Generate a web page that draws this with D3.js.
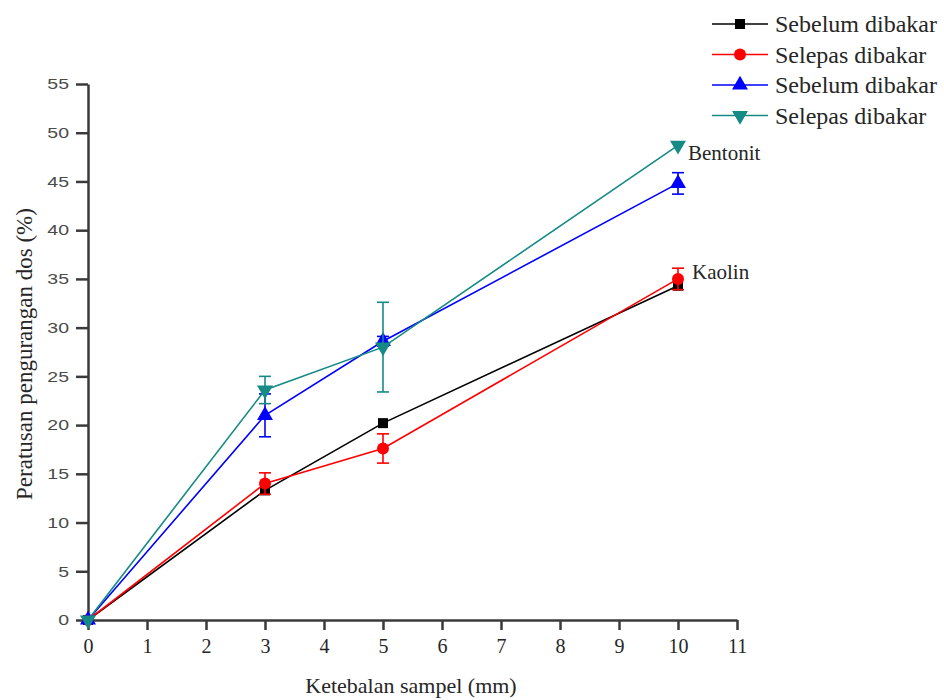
<!DOCTYPE html>
<html>
<head>
<meta charset="utf-8">
<script src="https://cdn.jsdelivr.net/npm/d3@7"></script>
<style>
  body { margin: 0; background: #fff; }
  svg text.serif { font-family: "Liberation Serif", "DejaVu Serif", serif; fill: #262626; }
  svg text.sans { font-family: "Liberation Sans", Arial, sans-serif; fill: #4a4a4a; }
</style>
</head>
<body>
<div id="chart"></div>
<script>
// data
const xValues = [0, 3, 5, 10];
const seriesNames = ['Sebelum dibakar', 'Selepas dibakar', 'Sebelum dibakar', 'Selepas dibakar'];
const kaolinBefore = [0, 13.3, 20.2, 34.3];
const kaolinBeforeErr = [0, 0, 0, 0];
const kaolinAfter = [0, 14.0, 17.6, 35.0];
const kaolinAfterErr = [0, 1.1, 1.5, 1.1];
const bentonitBefore = [0, 21.0, 28.6, 44.8];
const bentonitBeforeErr = [0, 2.2, 0.5, 1.1];
const bentonitAfter = [0, 23.6, 28.0, 48.7];
const bentonitAfterErr = [0, 1.4, 4.6, 0];
const xTicks = [0, 1, 2, 3, 4, 5, 6, 7, 8, 9, 10, 11];
const yTicks = [0, 5, 10, 15, 20, 25, 30, 35, 40, 45, 50, 55];

const series = [
  { name: seriesNames[0], y: kaolinBefore, err: kaolinBeforeErr, color: '#000000', shape: 'square' },
  { name: seriesNames[1], y: kaolinAfter, err: kaolinAfterErr, color: '#ff0000', shape: 'circle' },
  { name: seriesNames[2], y: bentonitBefore, err: bentonitBeforeErr, color: '#0000ff', shape: 'up' },
  { name: seriesNames[3], y: bentonitAfter, err: bentonitAfterErr, color: '#168a84', shape: 'down' }
];

const W = 944, H = 700;
const svg = d3.select('#chart').append('svg').attr('width', W).attr('height', H);

const x = d3.scaleLinear().domain([0, 11]).range([88, 737]);
const y = d3.scaleLinear().domain([0, 55]).range([620, 84]);

// axes
const xAxis = svg.append('g')
  .attr('transform', 'translate(0,620)')
  .call(d3.axisBottom(x).tickValues(xTicks).tickSize(10).tickSizeOuter(0).tickPadding(9));
xAxis.selectAll('text').attr('class', 'serif').attr('font-size', 20);
const yAxis = svg.append('g')
  .attr('transform', 'translate(88,0)')
  .call(d3.axisLeft(y).tickValues(yTicks).tickSize(12).tickSizeOuter(0).tickPadding(7));
yAxis.selectAll('text').attr('class', 'sans').attr('font-size', 15)
  .each(function () {
    // the original labels are drawn wider than normal
    const w = this.getComputedTextLength();
    d3.select(this).attr('textLength', w * 1.3).attr('lengthAdjust', 'spacingAndGlyphs');
  });
xAxis.attr('font-family', null); yAxis.attr('font-family', null);
svg.selectAll('.tick text').attr('fill', null);
svg.selectAll('.domain').attr('stroke', '#3a3a3a').attr('stroke-width', 2.5);
svg.selectAll('.tick line').attr('stroke', '#3a3a3a').attr('stroke-width', 2.5);

svg.append('text').attr('class', 'serif')
  .attr('x', 411).attr('y', 693).attr('text-anchor', 'middle').attr('font-size', 22)
  .text('Ketebalan sampel (mm)');
svg.append('text').attr('class', 'serif')
  .attr('transform', 'translate(32,354) rotate(-90)')
  .attr('text-anchor', 'middle').attr('font-size', 23)
  .text('Peratusan pengurangan dos (%)');

function marker(g, shape, color, cx, cy) {
  if (shape === 'square') {
    g.append('rect').attr('x', cx - 5).attr('y', cy - 5).attr('width', 10).attr('height', 10).attr('fill', color);
  } else if (shape === 'circle') {
    g.append('circle').attr('cx', cx).attr('cy', cy).attr('r', 6).attr('fill', color);
  } else {
    const sym = d3.symbol().type(d3.symbolTriangle).size(110)();
    g.append('path').attr('d', sym).attr('fill', color)
      .attr('transform', `translate(${cx},${cy})` + (shape === 'down' ? ' rotate(180)' : ''));
  }
}

const line = d3.line().x(d => x(d[0])).y(d => y(d[1]));

series.forEach(s => {
  const g = svg.append('g');
  const pts = xValues.map((v, i) => [v, s.y[i], s.err[i]]);
  g.append('path').attr('d', line(pts)).attr('fill', 'none').attr('stroke', s.color).attr('stroke-width', 1.6);
  pts.forEach(p => {
    if (p[2] > 0) {
      const cx = x(p[0]);
      g.append('line').attr('x1', cx).attr('x2', cx).attr('y1', y(p[1] - p[2])).attr('y2', y(p[1] + p[2]))
        .attr('stroke', s.color).attr('stroke-width', 1.6);
      [p[1] - p[2], p[1] + p[2]].forEach(v => {
        g.append('line').attr('x1', cx - 6).attr('x2', cx + 6).attr('y1', y(v)).attr('y2', y(v))
          .attr('stroke', s.color).attr('stroke-width', 1.6);
      });
    }
    marker(g, s.shape, s.color, x(p[0]), y(p[1]));
  });
});

// labels
svg.append('text').attr('class', 'serif').attr('x', 688).attr('y', 160).attr('font-size', 21).text('Bentonit');
svg.append('text').attr('class', 'serif').attr('x', 692).attr('y', 279).attr('font-size', 21).text('Kaolin');

// legend
const legend = svg.append('g');
series.forEach((s, i) => {
  const ly = 24 + i * 30.5;
  legend.append('line').attr('x1', 712).attr('x2', 768).attr('y1', ly).attr('y2', ly)
    .attr('stroke', s.color).attr('stroke-width', 1.6);
  marker(legend, s.shape, s.color, 740, ly);
  legend.append('text').attr('class', 'serif').attr('x', 775).attr('y', ly + 8)
    .attr('font-size', 24).text(s.name);
});
</script>
</body>
</html>
